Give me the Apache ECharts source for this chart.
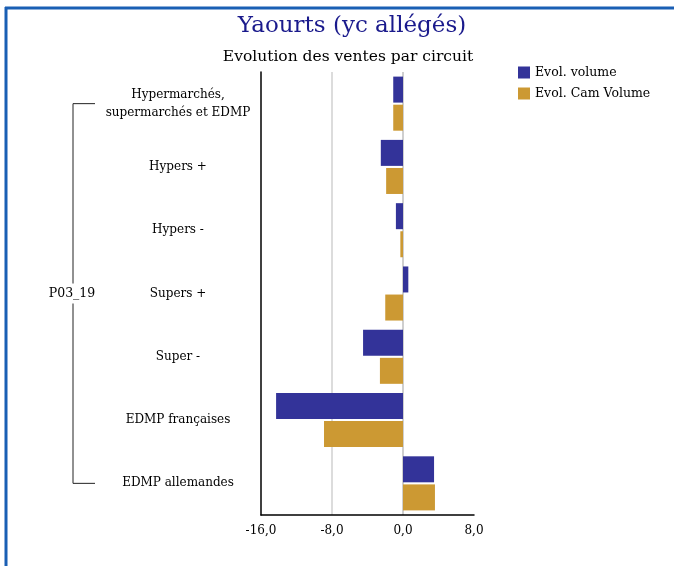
<!DOCTYPE html>
<html>
<head>
<meta charset="utf-8">
<script src="https://cdn.jsdelivr.net/npm/echarts@6/dist/echarts.min.js"></script>
<style>
  html, body { margin: 0; padding: 0; background: #fff; }
  #chart { width: 674px; height: 566px; }
</style>
</head>
<body>
<div id="chart"></div>
<script>
// circuits, top to bottom
const categories = [
  'Hypermarchés,\nsupermarchés et EDMP',
  'Hypers +',
  'Hypers -',
  'Supers +',
  'Super -',
  'EDMP françaises',
  'EDMP allemandes'
]
const groupLabel = 'P03_19'
const volume = [-1.1, -2.5, -0.8, 0.6, -4.5, -14.3, 3.5]
const camVolume = [-1.1, -1.9, -0.3, -2.0, -2.6, -8.9, 3.6]
const xMin = -16
const xMax = 8
const xStep = 8

const serif = 'DejaVu Serif'
const chart = echarts.init(document.getElementById('chart'))

const option = {
  animation: false,
  textStyle: { fontFamily: serif },
  title: [
    {
      text: 'Yaourts (yc allégés)',
      left: 347,
      top: 10,
      textAlign: 'center',
      textStyle: { color: '#1a1a8c', fontSize: 23, fontWeight: 'normal', fontFamily: serif }
    },
    {
      text: 'Evolution des ventes par circuit',
      left: 343,
      top: 44,
      textAlign: 'center',
      textStyle: { color: '#000', fontSize: 15.5, fontWeight: 'normal', fontFamily: serif }
    }
  ],
  legend: {
    orient: 'vertical',
    left: 513,
    top: 61,
    itemWidth: 12,
    itemHeight: 12,
    itemGap: 8,
    icon: 'rect',
    textStyle: { fontSize: 12.5, color: '#000', fontFamily: serif },
    data: ['Evol. volume', 'Evol. Cam Volume']
  },
  grid: { left: 261, top: 72, width: 213, height: 443, containLabel: false },
  xAxis: {
    type: 'value',
    min: xMin,
    max: xMax,
    interval: xStep,
    axisLine: { show: true, lineStyle: { color: '#000', width: 1.5 } },
    axisTick: { show: false },
    splitLine: {
      show: true,
      lineStyle: { color: ['transparent', '#dcdcdc', '#cfcfcf', 'transparent'], width: 2 }
    },
    axisLabel: {
      color: '#000',
      fontSize: 12,
      margin: 10,
      formatter: v => v.toFixed(1).replace('.', ',')
    }
  },
  yAxis: {
    type: 'category',
    inverse: true,
    data: categories,
    axisLine: { show: true, onZero: false, lineStyle: { color: '#000', width: 1.5 } },
    axisTick: { show: false },
    axisLabel: {
      color: '#000',
      fontSize: 12,
      align: 'center',
      margin: 83,
      lineHeight: 18
    }
  },
  series: [
    {
      name: 'Evol. volume',
      type: 'bar',
      data: volume,
      barWidth: 26,
      barGap: '8%',
      itemStyle: { color: '#333399' }
    },
    {
      name: 'Evol. Cam Volume',
      type: 'bar',
      data: camVolume,
      barWidth: 26,
      itemStyle: { color: '#cc9933' }
    }
  ]
}
chart.setOption(option)

// bracket for the group label, placed from the category scale
const yTop = chart.convertToPixel({ yAxisIndex: 0 }, categories[0])
const yBot = chart.convertToPixel({ yAxisIndex: 0 }, categories[categories.length - 1])
const yMid = (yTop + yBot) / 2
const bx = 73
const lineStyle = { stroke: '#222', lineWidth: 1 }
chart.setOption({
  graphic: [
    // page frame
    { type: 'line', shape: { x1: 5, y1: 8, x2: 674, y2: 8 }, style: { stroke: '#1a5fb4', lineWidth: 3 } },
    { type: 'line', shape: { x1: 6, y1: 7, x2: 6, y2: 566 }, style: { stroke: '#1a5fb4', lineWidth: 3 } },
    // group bracket
    { type: 'line', shape: { x1: bx, y1: yTop, x2: 95, y2: yTop }, style: lineStyle },
    { type: 'line', shape: { x1: bx, y1: yBot, x2: 95, y2: yBot }, style: lineStyle },
    { type: 'line', shape: { x1: bx, y1: yTop, x2: bx, y2: yMid - 10 }, style: lineStyle },
    { type: 'line', shape: { x1: bx, y1: yMid + 10, x2: bx, y2: yBot }, style: lineStyle },
    {
      type: 'text',
      x: 72,
      y: yMid,
      style: {
        text: groupLabel,
        align: 'center',
        verticalAlign: 'middle',
        fill: '#000',
        font: '12.5px "DejaVu Serif"'
      }
    }
  ]
})
</script>
</body>
</html>
